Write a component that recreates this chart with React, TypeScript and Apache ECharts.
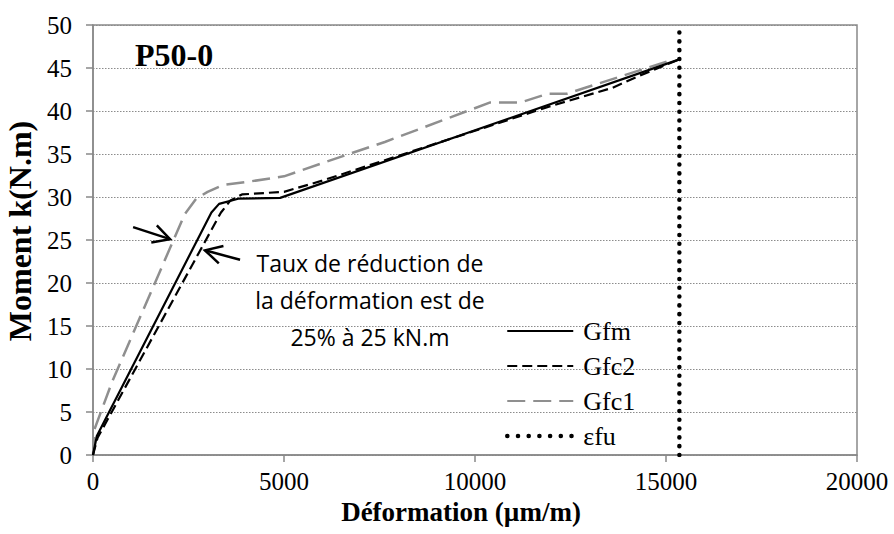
import React, { useEffect, useRef } from "react";
import * as echarts from "echarts";

// Déformation (µm/m) vs Moment (kN.m)
const deformGfm = [0, 100, 3100, 3300, 3800, 4900, 15350];
const momentGfm = [0, 2.2, 28.2, 29.2, 29.8, 29.9, 46];

const deformGfc2 = [0, 120, 3350, 3600, 3900, 5000, 6000, 8000, 10000, 12000, 13600, 14300, 15350];
const momentGfc2 = [0, 2, 28.2, 29.6, 30.3, 30.6, 31.9, 34.8, 37.7, 40.6, 42.7, 44.1, 46];

const deformGfc1 = [0, 40, 500, 2400, 2700, 3000, 3400, 4100, 5000, 6700, 7640, 10400, 11200, 11900, 12400, 15200];
const momentGfc1 = [0, 3, 8.5, 28, 29.8, 30.6, 31.4, 31.8, 32.4, 35, 36.4, 41, 41, 42, 42, 46];

const deformEfu = [15350, 15350];
const momentEfu = [0, 50];

const seriesNames = ["Gfm", "Gfc2", "Gfc1", "εfu"];

// annotation (data coordinates)
const arrow1 = { tail: [1050, 26.5], head: [2016, 25.1] };
const arrow2 = { tail: [3850, 22.7], head: [2930, 23.8] };
const noteCenter = [7250, 18.0];
const noteLines = ["Taux de réduction de", "la déformation est de", "25% à 25 kN.m"];

const zip = (xs: number[], ys: number[]) => xs.map((x, i) => [x, ys[i]]);

const SERIF = "'Liberation Serif', 'Times New Roman', serif";
const AXIS_COLOR = "#898989";
const EFU_STYLE = { color: "#000", width: 4.5, type: [0.1, 8.7], cap: "round" };

export default function App() {
  const ref = useRef<HTMLDivElement>(null);
  useEffect(() => {
    if (!ref.current) return;
    const chart = echarts.init(ref.current, null, { renderer: "svg" });
    chart.setOption({
      animation: false,
      title: {
        text: "P50-0",
        left: 130,
        top: 34,
        textStyle: { fontFamily: SERIF, fontWeight: "bold", fontSize: 32, color: "#000" },
      },
      grid: {
        left: 93,
        right: 37,
        top: 25,
        bottom: 79,
        show: true,
        containLabel: false,
        outerBoundsMode: "none",
        borderColor: AXIS_COLOR,
        borderWidth: 1.5,
      },
      legend: {
        orient: "vertical",
        left: 500,
        top: 313,
        itemWidth: 66,
        itemHeight: 20,
        itemGap: 9,
        data: [
          "Gfm",
          "Gfc2",
          "Gfc1",
          { name: seriesNames[3], lineStyle: { width: 4.5, type: [0.1, 10.6], cap: "round", color: "#000" } },
        ],
        itemStyle: { opacity: 0 },
        textStyle: { fontFamily: SERIF, fontSize: 26, color: "#000", padding: [0, 0, 0, 5] },
      },
      xAxis: {
        type: "value",
        min: 0,
        max: 20000,
        interval: 5000,
        name: "Déformation (µm/m)",
        nameLocation: "middle",
        nameGap: 35,
        nameTextStyle: {
          fontFamily: SERIF,
          fontWeight: "bold",
          fontSize: 27,
          color: "#000",
          padding: [0, 28, 0, 0],
        },
        axisLine: { show: true, lineStyle: { color: AXIS_COLOR, width: 1.5 } },
        axisTick: { show: true, length: 7, lineStyle: { color: AXIS_COLOR, width: 1.5 } },
        axisLabel: {
          fontFamily: SERIF,
          fontSize: 25,
          color: "#000",
          margin: 14,
          formatter: (v: number) => String(v),
        },
        splitLine: { show: false },
      },
      yAxis: {
        type: "value",
        min: 0,
        max: 50,
        interval: 5,
        name: "Moment k(N.m)",
        nameLocation: "middle",
        nameGap: 56,
        nameTextStyle: {
          fontFamily: SERIF,
          fontWeight: "bold",
          fontSize: 32,
          color: "#000",
          padding: [0, 0, 0, 18],
        },
        axisLine: { show: true, lineStyle: { color: AXIS_COLOR, width: 1.5 } },
        axisTick: { show: true, length: 7, lineStyle: { color: AXIS_COLOR, width: 1.5 } },
        axisLabel: { fontFamily: SERIF, fontSize: 25, color: "#000", margin: 21 },
        splitLine: { show: true, lineStyle: { color: "#8c8c8c", type: [1.5, 1.5], width: 1.2 } },
      },
      series: [
        {
          name: "Gfm",
          type: "line",
          symbol: "none",
          data: zip(deformGfm, momentGfm),
          lineStyle: { color: "#000", width: 2.2 },
          itemStyle: { color: "#000" },
          z: 4,
        },
        {
          name: "Gfc2",
          type: "line",
          symbol: "none",
          data: zip(deformGfc2, momentGfc2),
          lineStyle: { color: "#000", width: 2.2, type: [10, 5] },
          itemStyle: { color: "#000" },
          z: 3,
        },
        {
          name: "Gfc1",
          type: "line",
          symbol: "none",
          data: zip(deformGfc1, momentGfc1),
          lineStyle: { color: "#8f8f8f", width: 2.5, type: [18, 8] },
          itemStyle: { color: "#8f8f8f" },
          z: 2,
        },
        {
          name: "εfu",
          type: "line",
          symbol: "none",
          data: zip(deformEfu, momentEfu),
          lineStyle: EFU_STYLE,
          itemStyle: { color: "#000" },
          z: 5,
        },
      ],
    });

    const px = (p: number[]) => chart.convertToPixel({ gridIndex: 0 }, p) as number[];
    const arrowEls = (a: { tail: number[]; head: number[] }) => {
      const t = px(a.tail);
      const h = px(a.head);
      const ang = Math.atan2(t[1] - h[1], t[0] - h[0]);
      const L = 19;
      const spread = (28 * Math.PI) / 180;
      const w1 = [h[0] + L * Math.cos(ang + spread), h[1] + L * Math.sin(ang + spread)];
      const w2 = [h[0] + L * Math.cos(ang - spread), h[1] + L * Math.sin(ang - spread)];
      return [
        {
          type: "line",
          shape: { x1: t[0], y1: t[1], x2: h[0], y2: h[1] },
          style: { stroke: "#000", lineWidth: 2.5 },
          z: 10,
        },
        {
          type: "polyline",
          shape: { points: [w1, h, w2] },
          style: { stroke: "#000", lineWidth: 2.5, fill: null },
          z: 10,
        },
      ];
    };
    const c = px(noteCenter);
    chart.setOption({
      graphic: [
        ...arrowEls(arrow1),
        ...arrowEls(arrow2),
        {
          type: "text",
          x: c[0],
          y: c[1],
          z: 10,
          style: {
            text: noteLines.join("\n"),
            fontFamily: "'Open Sans', sans-serif",
            fontSize: 23,
            lineHeight: 37,
            fill: "#000",
            align: "center",
            verticalAlign: "middle",
          },
        },
      ],
    });

    return () => chart.dispose();
  }, []);
  return (
    <div
      ref={ref}
      style={{ position: "absolute", left: 0, top: 0, width: 894, height: 534 }}
    />
  );
}
